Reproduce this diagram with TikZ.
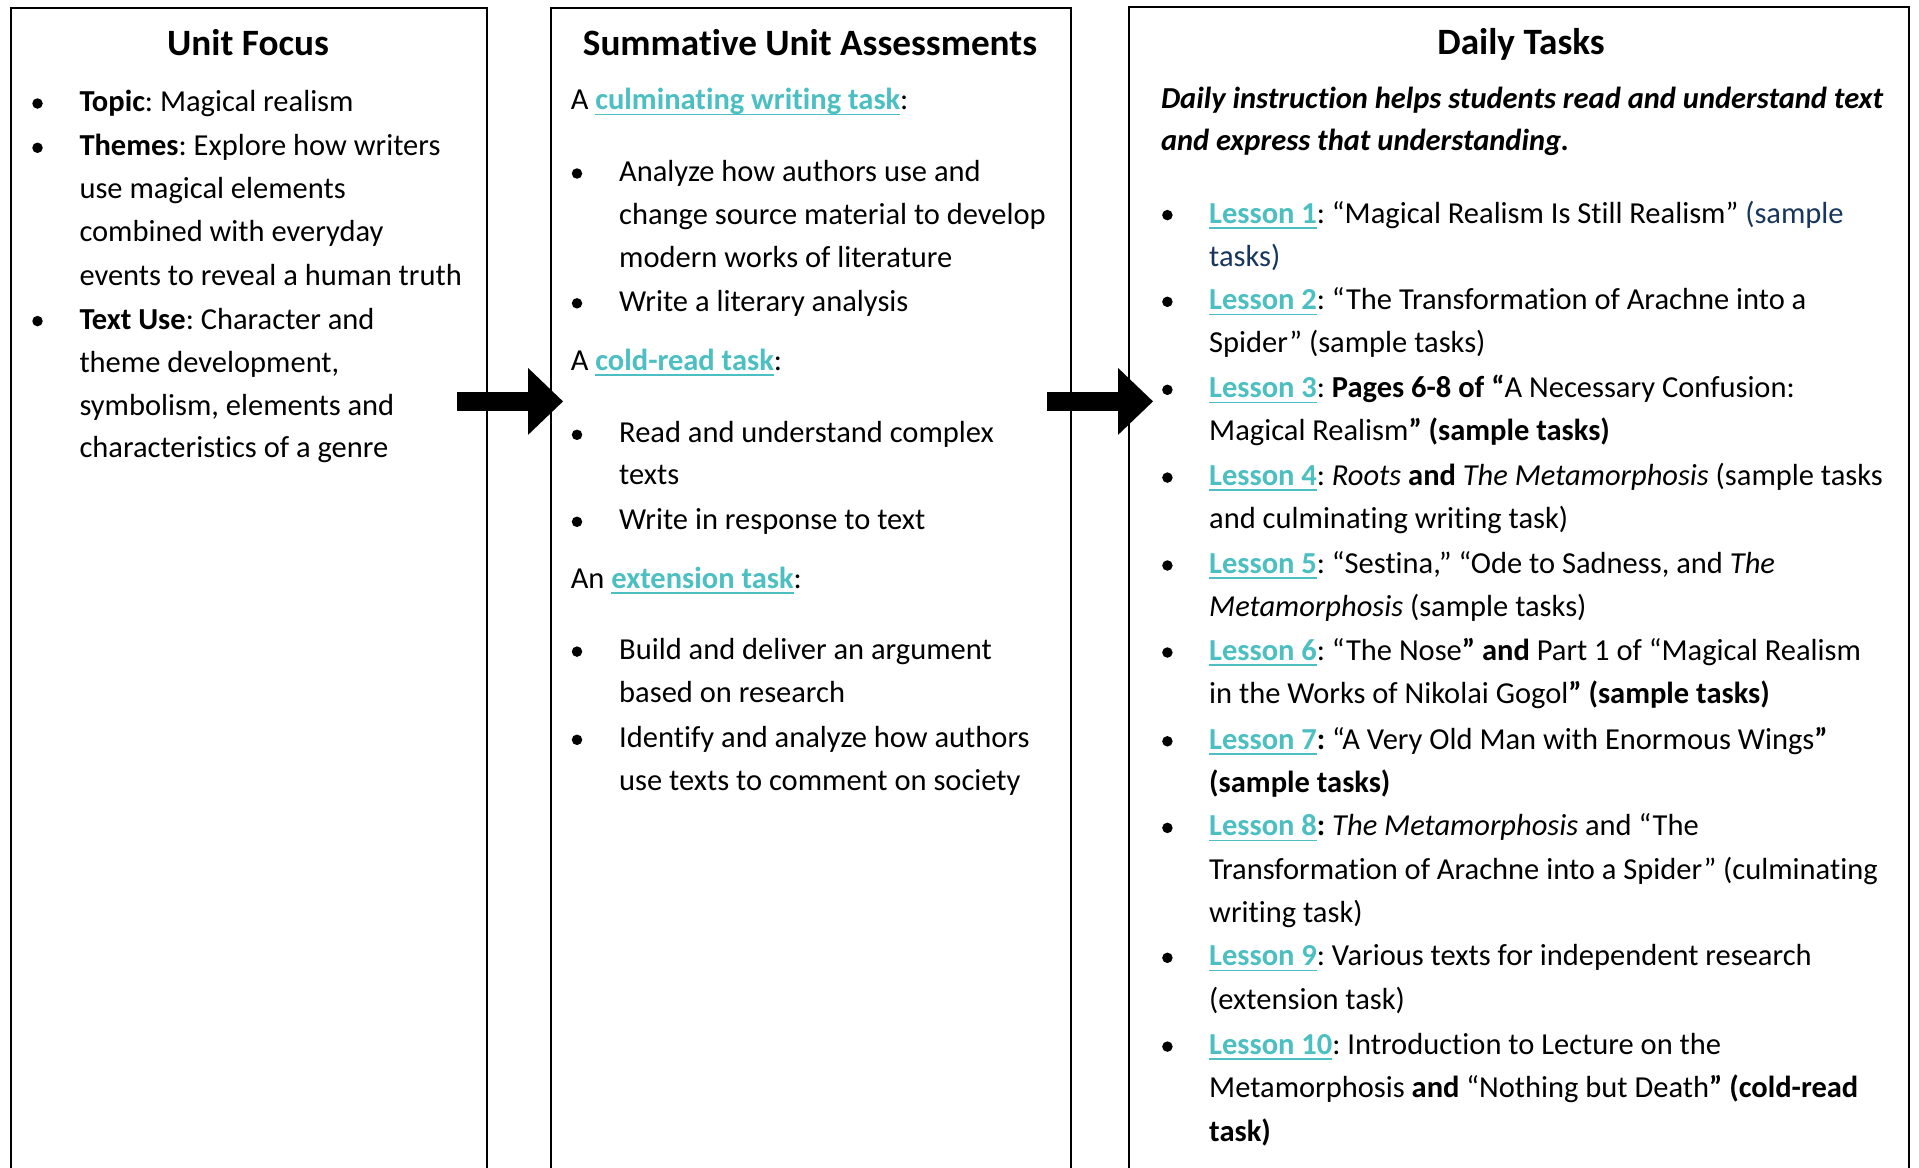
\documentclass[tikz,border=0pt]{standalone}
\usepackage{fontspec}
\setmainfont{Carlito}[Ligatures=NoCommon]
\usetikzlibrary{arrows.meta}
\definecolor{lnk}{RGB}{75,191,193}
\definecolor{navy}{RGB}{23,54,93}
\newsavebox\lnkbox
\newcommand\lnk[1]{\sbox\lnkbox{\bfseries\color{lnk}#1}\rlap{\color{lnk}\rule[-5.5pt]{\wd\lnkbox}{1.8pt}}\usebox\lnkbox}
\frenchspacing
\tikzset{
  panel/.style={draw, line width=2pt, anchor=north west, inner sep=0pt, rectangle},
  body/.style={anchor=base west, inner sep=0pt, yshift=-1.3pt, font=\frenchspacing\fontsize{30.5}{43}\selectfont},
  ttl/.style={anchor=base, inner sep=0pt, yshift=-2.5pt, font=\fontsize{37.2}{44}\selectfont\bfseries},
  bul/.style={circle, fill=black, inner sep=0pt, minimum size=10.5pt, yshift=-1.3pt},
  bigarrow/.style={line width=19.4pt, line cap=butt, -{Triangle[length=35pt,width=67pt,line width=0pt]}}
}
\begin{document}
\begin{tikzpicture}[x=1pt,y=-1pt]
\useasboundingbox (0,0) rectangle (1919,1167);
\clip (0,0) rectangle (1919,1167);
\fill[white] (0,0) rectangle (1919,1167);
% panels
\node[panel, minimum width=476.1pt, minimum height=1200pt] (box1) at (9.6,7.3) {};
\node[panel, minimum width=520.4pt, minimum height=1200pt] (box2) at (549.6,7) {};
\node[panel, minimum width=780.4pt, minimum height=1200pt] (box3) at (1127.6,5.5) {};
% titles
\node[ttl] (ttl1) at (248,53.3) {Unit Focus};
\node[ttl] (ttl2) at (810,52.7) {Summative Unit Assessments};
\node[ttl] (ttl3) at (1521,51.7) {Daily Tasks};
% box 1
\node[bul] (u1b) at (37.5,102.2) {};
\node[body] (u1) at (79.3,110.2) {\textbf{Topic}: Magical realism};
\node[bul] (u2b) at (37.5,146.5) {};
\node[body] (u2a) at (79.3,154.5) {\textbf{Themes}: Explore how writers};
\node[body] (u2b2) at (79.3,196.9) {use magical elements};
\node[body] (u2c) at (79.3,240.5) {combined with everyday};
\node[body] (u2d) at (79.3,284.2) {events to reveal a human truth};
\node[bul] (u3b) at (37.5,319.8) {};
\node[body] (u3a) at (79.3,327.8) {\textbf{Text Use}: Character and};
\node[body] (u3b2) at (79.3,371) {theme development,};
\node[body] (u3c) at (79.3,414.1) {symbolism, elements and};
\node[body] (u3d) at (79.3,456.5) {characteristics of a genre};
% box 2
\node[body] (s1) at (570.6,108.5) {A \lnk{culminating writing task}:};
\node[bul] (s1ab) at (577,172.2) {};
\node[body] (s1a) at (619,180.2) {Analyze how authors use and};
\node[body] (s1a2) at (619,222.8) {change source material to develop};
\node[body] (s1a3) at (619,266) {modern works of literature};
\node[bul] (s1bb) at (577,302) {};
\node[body] (s1b) at (619,310) {Write a literary analysis};
\node[body] (s2) at (570.6,369) {A \lnk{cold-read task}:};
\node[bul] (s2ab) at (577,433.5) {};
\node[body] (s2a) at (619,441.5) {Read and understand complex};
\node[body] (s2a2) at (619,483.3) {texts};
\node[bul] (s2bb) at (577,520.5) {};
\node[body] (s2b) at (619,528.5) {Write in response to text};
\node[body] (s3) at (570.6,587.4) {An \lnk{extension task}:};
\node[bul] (s3ab) at (577,650.3) {};
\node[body] (s3a) at (619,658.3) {Build and deliver an argument};
\node[body] (s3a2) at (619,701.2) {based on research};
\node[bul] (s3bb) at (577,738.5) {};
\node[body] (s3b) at (619,746.5) {Identify and analyze how authors};
\node[body] (s3b2) at (619,789.3) {use texts to comment on society};
% box 3
\node[body] (d0a) at (1160.8,106.8) {\bfseries\itshape Daily instruction helps students read and understand text};
\node[body] (d0b) at (1160.8,148.9) {\bfseries\itshape and express that understanding.};
\node[bul] (l1b) at (1167.4,213.8) {};
\node[body] (l1a) at (1209,221.8) {\lnk{Lesson 1}: “Magical Realism Is Still Realism” {\color{navy}(sample}};
\node[body] (l1c) at (1209,265.2) {\color{navy}tasks)};
\node[bul] (l2b) at (1167.4,300.5) {};
\node[body] (l2a) at (1209,308.5) {\lnk{Lesson 2}: “The Transformation of Arachne into a};
\node[body] (l2c) at (1209,351.5) {Spider” (sample tasks)};
\node[bul] (l3b) at (1167.4,388.5) {};
\node[body] (l3a) at (1209,396.5) {\lnk{Lesson 3}: \textbf{Pages 6-8 of “}A Necessary Confusion:};
\node[body] (l3c) at (1209,439) {Magical Realism\textbf{” (sample tasks)}};
\node[bul] (l4b) at (1167.4,476.3) {};
\node[body] (l4a) at (1209,484.3) {\lnk{Lesson 4}: \textit{Roots} \textbf{and} \textit{The Metamorphosis} (sample tasks};
\node[body] (l4c) at (1209,527.1) {and culminating writing task)};
\node[bul] (l5b) at (1167.4,564.2) {};
\node[body] (l5a) at (1209,572.2) {\lnk{Lesson 5}: “Sestina,” “Ode to Sadness, and \textit{The}};
\node[body] (l5c) at (1209,615) {\textit{Metamorphosis} (sample tasks)};
\node[bul] (l6b) at (1167.4,651.2) {};
\node[body] (l6a) at (1209,659.2) {\lnk{Lesson 6}: “The Nose\textbf{” and} Part 1 of “Magical Realism};
\node[body] (l6c) at (1209,702) {in the Works of Nikolai Gogol\textbf{” (sample tasks)}};
\node[bul] (l7b) at (1167.4,740) {};
\node[body] (l7a) at (1209,748) {\lnk{Lesson 7}\textbf{:} “A Very Old Man with Enormous Wings\textbf{”}};
\node[body] (l7c) at (1209,790.9) {\textbf{(sample tasks)}};
\node[bul] (l8b) at (1167.4,826.6) {};
\node[body] (l8a) at (1209,834.6) {\lnk{Lesson 8}\textbf{:} \textit{The Metamorphosis} and “The};
\node[body] (l8c) at (1209,877.9) {Transformation of Arachne into a Spider” (culminating};
\node[body] (l8d) at (1209,920.7) {writing task)};
\node[bul] (l9b) at (1167.4,956.5) {};
\node[body] (l9a) at (1209,964.5) {\lnk{Lesson 9}: Various texts for independent research};
\node[body] (l9c) at (1209,1008.2) {(extension task)};
\node[bul] (l10b) at (1167.4,1045.3) {};
\node[body] (l10a) at (1209,1053.3) {\lnk{Lesson 10}: Introduction to Lecture on the};
\node[body] (l10c) at (1209,1096.1) {Metamorphosis \textbf{and} “Nothing but Death\textbf{” (cold-read}};
\node[body] (l10d) at (1209,1140.3) {\textbf{task)}};
% arrows
\coordinate (a1s) at (457,401.4);
\coordinate (a1e) at (563,401.4);
\coordinate (a2s) at (1047,401.4);
\coordinate (a2e) at (1153,401.4);
\draw[bigarrow] (a1s) -- (a1e);
\draw[bigarrow] (a2s) -- (a2e);
\end{tikzpicture}
\end{document}
